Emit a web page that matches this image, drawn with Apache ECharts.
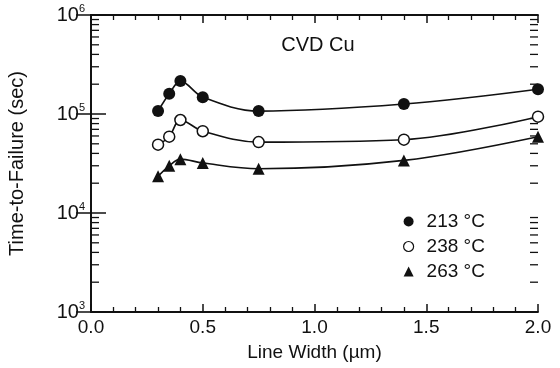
<!DOCTYPE html>
<html><head><meta charset="utf-8">
<script src="https://cdn.jsdelivr.net/npm/echarts@6/dist/echarts.min.js"></script>
<style>html,body{margin:0;padding:0;background:#fff}#c{width:560px;height:368px}</style>
</head><body><div id="c"></div>
<script>
var lineWidths = [0.3, 0.35, 0.4, 0.5, 0.75, 1.4, 2.0];
var ttf213 = [1.07e5, 1.6e5, 2.15e5, 1.48e5, 1.07e5, 1.26e5, 1.78e5];
var ttf238 = [4.9e4, 5.9e4, 8.7e4, 6.7e4, 5.2e4, 5.5e4, 9.4e4];
var ttf263 = [2.35e4, 3.0e4, 3.5e4, 3.2e4, 2.8e4, 3.4e4, 5.9e4];
var seriesNames = ['213 °C', '238 °C', '263 °C'];
var yMinorTicks = [2e3,3e3,4e3,5e3,6e3,7e3,8e3,9e3,2e4,3e4,4e4,5e4,6e4,7e4,8e4,9e4,2e5,3e5,4e5,5e5,6e5,7e5,8e5,9e5];
var xMin = 0, xMax = 2.0, xInterval = 0.5;
var yMin = 1e3, yMax = 1e6;
var FONT = '"Liberation Sans", Arial, sans-serif';

function pairs(ys){ return lineWidths.map(function(x,i){ return [x, ys[i]]; }); }
var minorData = [];
yMinorTicks.forEach(function(v){ minorData.push([0, v]); minorData.push([1, v]); });

var chart = echarts.init(document.getElementById('c'), null, {renderer:'canvas'});
var axisLine = {show:true, lineStyle:{color:'#111', width:1.8}};
var lineSeries = function(name, ys, symbol, size, fill){
  return {
    name: name, type:'line', smooth:0.35, data: pairs(ys),
    symbol: symbol, symbolSize: size,
    lineStyle:{color:'#111', width:1.6},
    itemStyle:{color: fill, borderColor:'#111', borderWidth: fill === '#fff' ? 1.5 : 0},
    z: 3
  };
};
chart.setOption({
  animation:false,
  backgroundColor:'#fff',
  grid:{left:91, right:22, top:15, bottom:56, containLabel:false, outerBoundsMode:'none'},
  title:{text:'CVD Cu', left:313, top:30, textAlign:'center',
    textStyle:{fontFamily:FONT, fontSize:20, fontWeight:'normal', color:'#111'}},
  legend:{
    orient:'vertical', left:398, top:207, itemGap:6, itemWidth:10, itemHeight:10,
    textStyle:{fontFamily:FONT, fontSize:19, color:'#111', padding:[0,0,0,8]},
    data:[{name:seriesNames[0], icon:'circle'},
          {name:seriesNames[1], icon:'circle', itemStyle:{borderWidth:1.2}},
          {name:seriesNames[2], icon:'triangle'}]
  },
  xAxis:[{
    type:'value', min:xMin, max:xMax, interval:xInterval, position:'bottom',
    name:'Line Width (µm)', nameLocation:'middle', nameGap:31,
    nameTextStyle:{fontFamily:FONT, fontSize:19, color:'#111'},
    axisLine:axisLine,
    axisTick:{show:true, inside:true, length:8, lineStyle:{color:'#111', width:1.5}},
    minorTick:{show:true, splitNumber:5, length:5, lineStyle:{color:'#111', width:1.3}},
    splitLine:{show:false},
    axisLabel:{fontFamily:FONT, fontSize:19, color:'#111', margin:6, formatter:function(v){return v.toFixed(1);}}
  },{
    type:'value', min:xMin, max:xMax, interval:xInterval, position:'top',
    axisLine:axisLine,
    axisTick:{show:true, inside:true, length:8, lineStyle:{color:'#111', width:1.5}},
    minorTick:{show:true, splitNumber:5, length:5, lineStyle:{color:'#111', width:1.3}},
    splitLine:{show:false}, axisLabel:{show:false}
  }],
  yAxis:[{
    type:'log', logBase:10, min:yMin, max:yMax, position:'left',
    name:'Time-to-Failure (sec)', nameLocation:'middle', nameGap:64, nameRotate:90,
    nameTextStyle:{fontFamily:FONT, fontSize:20, color:'#111'},
    axisLine:axisLine,
    axisTick:{show:true, inside:true, length:15, lineStyle:{color:'#111', width:1.5}},
    splitLine:{show:false},
    axisLabel:{margin:6, formatter:function(v){
        var e = Math.round(Math.log10(v));
        return '{b|10}{s|' + e + '}';
      },
      rich:{b:{fontFamily:FONT, fontSize:20, color:'#111'}, s:{fontFamily:FONT, fontSize:11, color:'#111', padding:[0,0,12,0]}}
    }
  },{
    type:'log', logBase:10, min:yMin, max:yMax, position:'right',
    axisLine:axisLine,
    axisTick:{show:true, inside:true, length:15, lineStyle:{color:'#111', width:1.5}},
    splitLine:{show:false}, axisLabel:{show:false}
  }],
  series:[
    lineSeries(seriesNames[0], ttf213, 'circle', 12, '#111'),
    lineSeries(seriesNames[1], ttf238, 'circle', 11, '#fff'),
    lineSeries(seriesNames[2], ttf263, 'triangle', 12, '#111'),
    {
      type:'custom', silent:true, data:minorData, z:2,
      renderItem:function(params, api){
        var side = api.value(0), v = api.value(1);
        var p = api.coord([side === 0 ? xMin : xMax, v]);
        var len = 8;
        var x2 = side === 0 ? p[0] + len : p[0] - len;
        return {type:'line', shape:{x1:p[0], y1:p[1], x2:x2, y2:p[1]}, style:{stroke:'#111', lineWidth:1.3}};
      }
    }
  ]
});
</script></body></html>
